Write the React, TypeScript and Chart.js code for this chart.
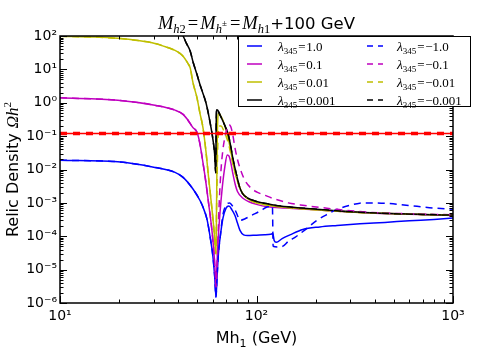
import React, { useEffect, useRef } from 'react';
import { Chart, registerables } from 'chart.js';
Chart.register(...registerables);

// ---------- data ----------
const xTicks = [10, 100, 1000];
const yTicks = [1e-6, 1e-5, 1e-4, 1e-3, 1e-2, 1e-1, 1, 10, 100];
const planckValue = 0.12;

const blueSolidMass = [10, 19.7, 30.4, 38.5, 42.3, 47.5, 51.5, 53.4, 56, 58, 60, 61.3, 62.2, 63, 64, 65.2, 67.5, 70, 72.4, 75, 77.7, 80, 82.4, 86, 90, 100, 110, 118, 121, 123, 126, 135, 148, 172, 210, 257, 336, 450, 600, 800, 1000];
const blueSolidOmega = [0.019, 0.017, 0.0115, 0.0082, 0.0058, 0.0026, 0.0012, 0.00075, 0.00032, 0.0001, 0.000025, 0.000006, 0.0000015, 0.000006, 0.00003, 0.000085, 0.00035, 0.0007, 0.0008, 0.00062, 0.00042, 0.00025, 0.00015, 0.00011, 0.000105, 0.000108, 0.00011, 0.000115, 0.00012, 0.000075, 0.000066, 0.000085, 0.00011, 0.00016, 0.00019, 0.00021, 0.000235, 0.00026, 0.00029, 0.00032, 0.00035];

const blueDashMass = [10, 19.7, 30.4, 38.5, 42.3, 47.5, 51.5, 53.4, 56, 58, 60, 61.3, 62.2, 63, 64, 65.2, 67.5, 70, 73, 75, 77.7, 80, 82.4, 87, 95, 105, 113, 119, 120.5, 121.5, 128, 135, 145, 157, 180, 203, 230, 257, 300, 336, 378, 477, 656, 800, 1000];
const blueDashOmega = [0.019, 0.017, 0.0115, 0.0082, 0.0058, 0.0026, 0.0012, 0.00075, 0.00032, 0.0001, 0.000025, 0.000006, 0.0000015, 0.000006, 0.00003, 0.000085, 0.00045, 0.00085, 0.001, 0.00085, 0.00063, 0.00042, 0.0003, 0.00033, 0.00043, 0.00058, 0.00075, 0.0008, 0.0008, 0.00005, 0.000048, 0.000049, 0.00007, 0.000093, 0.00017, 0.0003, 0.00046, 0.00064, 0.00085, 0.00098, 0.001, 0.00095, 0.00079, 0.0007, 0.00064];

const magSolidMass = [10, 19.7, 30.4, 38.5, 42.3, 44.8, 47.5, 49.8, 51.5, 53.4, 55.3, 57, 59, 60.8, 61.8, 62.2, 62.7, 63.5, 65, 67, 69, 71, 72.5, 74, 76, 78, 80, 85, 91, 100, 114, 140, 200, 260, 378, 600, 1000];
const magSolidOmega = [1.4, 1.19, 0.84, 0.6, 0.45, 0.3, 0.18, 0.13, 0.06, 0.016, 0.004, 0.001, 0.0002, 0.00003, 0.000006, 0.000003, 0.000008, 0.00005, 0.0004, 0.003, 0.012, 0.027, 0.025, 0.016, 0.007, 0.0035, 0.0022, 0.0014, 0.0011, 0.0009, 0.00076, 0.0007, 0.00062, 0.00056, 0.0005, 0.00046, 0.00042];

const magDashMass = [10, 19.7, 30.4, 38.5, 42.3, 44.8, 47.5, 49.8, 51.5, 53.4, 55.3, 57, 59, 60.8, 61.8, 62.2, 62.7, 63.5, 64.5, 66, 67.5, 69, 71, 72.5, 74, 75.5, 77.7, 80, 84, 87.4, 93, 100.6, 110, 124, 145, 172, 257, 378, 600, 1000];
const magDashOmega = [1.4, 1.19, 0.84, 0.6, 0.45, 0.3, 0.18, 0.13, 0.06, 0.016, 0.004, 0.001, 0.0002, 0.00003, 0.000006, 0.000003, 0.000008, 0.00005, 0.0008, 0.01, 0.04, 0.09, 0.18, 0.22, 0.19, 0.12, 0.045, 0.02, 0.008, 0.0047, 0.0029, 0.0021, 0.0017, 0.0013, 0.001, 0.00085, 0.00064, 0.00052, 0.00047, 0.00044];

const yelSolidMass = [10, 15, 19.7, 25, 30.4, 35, 38.5, 40.8, 42.5, 44.8, 46, 47.5, 49.8, 51.5, 53.4, 55.3, 57, 59, 60.8, 61.8, 62.2, 62.6, 63, 63.5, 64.2, 65.5, 67.5, 70, 72, 74, 76, 78, 80, 83, 87, 93, 100, 115, 132, 200, 300, 425, 700, 1000];
const yelSolidOmega = [98, 93, 85, 73, 60, 46, 37, 30, 24, 15, 11, 4, 1.4, 0.5, 0.18, 0.035, 0.006, 0.0009, 0.00015, 0.00004, 0.00003, 0.0006, 0.03, 0.3, 0.5, 0.42, 0.3, 0.15, 0.08, 0.035, 0.015, 0.0075, 0.0045, 0.0025, 0.0016, 0.0012, 0.001, 0.00085, 0.00076, 0.00062, 0.00053, 0.00049, 0.00045, 0.00043];

const yelDashMass = [10, 15, 19.7, 25, 30.4, 35, 38.5, 40.8, 42.5, 44.8, 46, 47.5, 49.8, 51.5, 53.4, 55.3, 57, 59, 60.8, 61.8, 62.2, 62.6, 63, 63.5, 64.5, 66, 68, 70, 72, 74, 76, 78, 80, 83, 87, 93, 100, 115, 132, 200, 300, 425, 700, 1000];
const yelDashOmega = [98, 93, 85, 73, 60, 46, 37, 30, 24, 15, 11, 4, 1.4, 0.5, 0.18, 0.035, 0.006, 0.0009, 0.00015, 0.00004, 0.00003, 0.0006, 0.005, 0.05, 0.2, 0.2, 0.15, 0.1, 0.06, 0.03, 0.014, 0.0075, 0.0045, 0.0025, 0.0016, 0.0012, 0.001, 0.00085, 0.00076, 0.00062, 0.00053, 0.00049, 0.00045, 0.00043];

const blkSolidMass = [40, 42.3, 44, 46, 47.5, 49.8, 51.5, 53.4, 55.3, 57, 59, 60.1, 61.2, 62, 62.4, 62.8, 63.5, 65, 67.5, 70, 71.6, 73.3, 76, 79.6, 82, 85, 90, 100, 115, 132, 180, 237, 300, 425, 700, 1000];
const blkSolidOmega = [160, 100, 60, 35, 17, 7, 3.6, 1.9, 1.0, 0.45, 0.15, 0.075, 0.03, 0.008, 0.3, 0.62, 0.6, 0.45, 0.28, 0.17, 0.12, 0.065, 0.02, 0.006, 0.003, 0.0019, 0.0014, 0.0011, 0.00092, 0.0008, 0.00068, 0.0006, 0.00054, 0.00049, 0.00045, 0.00043];

const blkDashMass = [40, 42.3, 44, 46, 47.5, 49.8, 51.5, 53.4, 55.3, 57, 59, 60.1, 61.2, 62, 62.4, 62.8, 63.5, 65, 67.5, 70, 71.6, 73.3, 76, 79.6, 82, 85, 90, 100, 115, 132, 180, 237, 300, 425, 700, 1000];
const blkDashOmega = [160, 100, 60, 35, 17, 7, 3.6, 1.9, 1.0, 0.45, 0.15, 0.075, 0.03, 0.008, 0.3, 0.62, 0.6, 0.45, 0.28, 0.17, 0.12, 0.065, 0.02, 0.006, 0.003, 0.0019, 0.0014, 0.0011, 0.00092, 0.0008, 0.00068, 0.0006, 0.00054, 0.00049, 0.00045, 0.00043];

const lambdaPos = ['1.0', '0.1', '0.01', '0.001'];
const lambdaNeg = ['\u22121.0', '\u22120.1', '\u22120.01', '\u22120.001'];
const seriesColors = ['#0000ff', '#bf00bf', '#bfbf00', '#000000'];

// ---------- styling helpers ----------
const SERIF = '"Liberation Serif", "DejaVu Serif", serif';
const SANS = '"DejaVu Sans", sans-serif';
const DASH = [7, 5];

type Run = { t: string; f: string; dy?: number; gap?: number };
function runsWidth(ctx: CanvasRenderingContext2D, runs: Run[]) {
  let w = 0;
  for (const r of runs) { ctx.font = r.f; w += ctx.measureText(r.t).width + (r.gap || 0); }
  return w;
}
function drawRuns(ctx: CanvasRenderingContext2D, runs: Run[], x: number, y: number) {
  let cx = x;
  for (const r of runs) {
    ctx.font = r.f;
    ctx.fillText(r.t, cx, y + (r.dy || 0));
    cx += ctx.measureText(r.t).width + (r.gap || 0);
  }
}
const SUP: Record<string, string> = { '-': '\u207b', '0': '\u2070', '1': '\u00b9', '2': '\u00b2', '3': '\u00b3', '4': '\u2074', '5': '\u2075', '6': '\u2076', '7': '\u2077', '8': '\u2078', '9': '\u2079' };
const sup = (s: string) => s.split('').map(c => SUP[c] || c).join('');
const decadeLabel = (v: number) => '10' + sup(String(Math.round(Math.log10(v))));

const pts = (m: number[], o: number[]) => m.map((x, i) => ({ x, y: o[i] }));

const decorPlugin = {
  id: 'mplDecor',
  afterDraw(chart: any) {
    const { ctx, chartArea: a, scales } = chart;
    const xs = scales.x, ys = scales.y;
    ctx.save();
    // inward tick marks on all four sides
    ctx.strokeStyle = '#000';
    ctx.lineWidth = 1;
    ctx.beginPath();
    for (let d = 1; d <= 3; d++) {
      for (let k = 1; k <= 9; k++) {
        const v = k * Math.pow(10, d);
        if (v > 1000) continue;
        const px = Math.round(xs.getPixelForValue(v)) + 0.5;
        const len = k === 1 ? 7 : 3.5;
        ctx.moveTo(px, a.bottom); ctx.lineTo(px, a.bottom - len);
        ctx.moveTo(px, a.top); ctx.lineTo(px, a.top + len);
      }
    }
    for (let d = -6; d <= 2; d++) {
      for (let k = 1; k <= 9; k++) {
        const v = k * Math.pow(10, d);
        if (v > 100) continue;
        const py = Math.round(ys.getPixelForValue(v)) + 0.5;
        const len = k === 1 ? 7 : 3.5;
        ctx.moveTo(a.left, py); ctx.lineTo(a.left + len, py);
        ctx.moveTo(a.right, py); ctx.lineTo(a.right - len, py);
      }
    }
    ctx.stroke();
    // frame
    ctx.lineWidth = 1.5;
    ctx.strokeRect(a.left, a.top, a.right - a.left, a.bottom - a.top);

    // legend
    const lx0 = 238, ly0 = 36, lx1 = 471, ly1 = 107;
    ctx.fillStyle = '#fff';
    ctx.fillRect(lx0, ly0, lx1 - lx0, ly1 - ly0);
    ctx.lineWidth = 1;
    ctx.strokeStyle = '#000';
    ctx.strokeRect(lx0 + 0.5, ly0 + 0.5, lx1 - lx0 - 1, ly1 - ly0 - 1);
    const rowY = [46, 64, 82, 100];
    const colLine = [[247, 262], [367, 383]];
    const colText = [278, 397];
    ctx.textBaseline = 'alphabetic';
    ctx.textAlign = 'left';
    for (let c = 0; c < 2; c++) {
      for (let r = 0; r < 4; r++) {
        const y = rowY[r];
        ctx.strokeStyle = seriesColors[r];
        ctx.lineWidth = 1.5;
        ctx.setLineDash(c === 0 ? [] : [6, 5]);
        ctx.beginPath();
        ctx.moveTo(colLine[c][0], y); ctx.lineTo(colLine[c][1], y);
        ctx.stroke();
        ctx.setLineDash([]);
        ctx.fillStyle = '#000';
        const val = c === 0 ? lambdaPos[r] : lambdaNeg[r];
        drawRuns(ctx, [
          { t: '\u03bb', f: `italic 13.5px ${SERIF}` },
          { t: '345', f: `9px ${SERIF}`, dy: 3, gap: 1 },
          { t: '=', f: `13px ${SERIF}`, gap: 0.5 },
          { t: val, f: `13px ${SERIF}` },
        ], colText[c], y + 4.5);
      }
    }

    // title
    ctx.fillStyle = '#000';
    const sub = `italic 12.5px ${SERIF}`;
    const subUp = `12.5px ${SERIF}`;
    const big = `italic 18.5px ${SERIF}`;
    const eq = `18.5px ${SERIF}`;
    const title: Run[] = [
      { t: 'M', f: big },
      { t: 'h', f: sub, dy: 4 },
      { t: '2', f: subUp, dy: 4, gap: 2 },
      { t: '=', f: eq, gap: 2 },
      { t: 'M', f: big },
      { t: 'h', f: sub, dy: 4 },
      { t: '\u00b1', f: `9px ${SERIF}`, dy: -3, gap: 3 },
      { t: '=', f: eq, gap: 2 },
      { t: 'M', f: big },
      { t: 'h', f: sub, dy: 4 },
      { t: '1', f: subUp, dy: 4 },
      { t: '+100 GeV', f: `16.5px ${SANS}` },
    ];
    const tw = runsWidth(ctx, title);
    drawRuns(ctx, title, (a.left + a.right) / 2 - tw / 2, 29);

    // x-axis label
    const xl: Run[] = [
      { t: 'Mh', f: `16px ${SANS}` },
      { t: '1', f: `11px ${SANS}`, dy: 4 },
      { t: ' (GeV)', f: `16px ${SANS}` },
    ];
    const xw = runsWidth(ctx, xl);
    drawRuns(ctx, xl, (a.left + a.right) / 2 - xw / 2, 343);

    // y-axis label
    const yl: Run[] = [
      { t: 'Relic Density ', f: `16px ${SANS}` },
      { t: '\u03a9h', f: `italic 17px ${SERIF}` },
      { t: '2', f: `11px ${SERIF}`, dy: -7 },
    ];
    const yw = runsWidth(ctx, yl);
    ctx.translate(18, (a.top + a.bottom) / 2);
    ctx.rotate(-Math.PI / 2);
    drawRuns(ctx, yl, -yw / 2, 0);
    ctx.restore();
  },
};

function line(data: { x: number; y: number }[], color: string, dashed: boolean, width = 1.5) {
  return {
    data,
    borderColor: color,
    backgroundColor: color,
    borderWidth: width,
    borderDash: dashed ? DASH : [],
    pointRadius: 0,
    fill: false,
    cubicInterpolationMode: 'monotone' as const,
  };
}

export default function App() {
  const ref = useRef<HTMLCanvasElement | null>(null);
  useEffect(() => {
    if (!ref.current) return;
    const planck = [{ x: 10, y: planckValue }, { x: 1000, y: planckValue }];
    const chart = new Chart(ref.current, {
      type: 'line',
      data: {
        datasets: [
          { ...line(planck, '#ff0000', true, 3.5), borderDash: [7, 6] },
          line(planck, '#ff0000', false, 1.5),
          line(pts(blkDashMass, blkDashOmega), seriesColors[3], true),
          line(pts(yelDashMass, yelDashOmega), seriesColors[2], true),
          line(pts(magDashMass, magDashOmega), seriesColors[1], true),
          line(pts(blueDashMass, blueDashOmega), seriesColors[0], true),
          line(pts(blkSolidMass, blkSolidOmega), seriesColors[3], false),
          line(pts(yelSolidMass, yelSolidOmega), seriesColors[2], false),
          line(pts(magSolidMass, magSolidOmega), seriesColors[1], false),
          line(pts(blueSolidMass, blueSolidOmega), seriesColors[0], false),
        ] as any,
      },
      options: {
        animation: false,
        responsive: true,
        maintainAspectRatio: false,
        devicePixelRatio: 1,
        layout: { padding: { left: 0, right: 24, top: 36, bottom: 0 } },
        plugins: { legend: { display: false }, tooltip: { enabled: false }, title: { display: false } },
        scales: {
          x: {
            type: 'logarithmic',
            min: 10,
            max: 1000,
            grid: { display: false, drawTicks: false },
            border: { display: false },
            afterBuildTicks: (s: any) => { s.ticks = xTicks.map(v => ({ value: v })); },
            afterFit: (s: any) => { s.height = 55; },
            ticks: { color: '#000', font: { family: 'DejaVu Sans', size: 14 }, padding: 5, autoSkip: false, maxRotation: 0, callback: (v: any) => decadeLabel(Number(v)) },
          },
          y: {
            type: 'logarithmic',
            min: 1e-6,
            max: 100,
            grid: { display: false, drawTicks: false },
            border: { display: false },
            afterBuildTicks: (s: any) => { s.ticks = yTicks.map(v => ({ value: v })); },
            afterFit: (s: any) => { s.width = 60; },
            ticks: { color: '#000', font: { family: 'DejaVu Sans', size: 14 }, padding: 3, autoSkip: false, callback: (v: any) => decadeLabel(Number(v)) },
          },
        },
      } as any,
      plugins: [decorPlugin],
    });
    return () => chart.destroy();
  }, []);
  return (
    <div style={{ position: 'fixed', left: 0, top: 0, width: 477, height: 358, background: '#fff' }}>
      <canvas ref={ref} />
    </div>
  );
}
